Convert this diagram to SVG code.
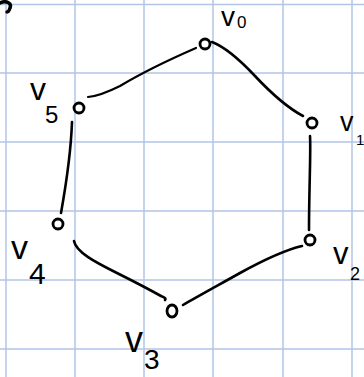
<svg xmlns="http://www.w3.org/2000/svg" width="364" height="377" viewBox="0 0 364 377">
<style>
.grid line{stroke:#b3c5e6;stroke-width:1.5}
.edge{fill:none;stroke:#000;stroke-width:2.6;stroke-linecap:round;stroke-linejoin:round}
.node{fill:none;stroke:#000;stroke-width:2.8}
.lbl{font-family:"Liberation Sans",Arial,sans-serif;fill:#000}
</style>
<rect width="364" height="377" fill="#fff"/>
<g class="grid">
<line x1="6" y1="0" x2="6" y2="377"/>
<line x1="75" y1="0" x2="75" y2="377"/>
<line x1="144" y1="0" x2="144" y2="377"/>
<line x1="213" y1="0" x2="213" y2="377"/>
<line x1="283" y1="0" x2="283" y2="377"/>
<line x1="352" y1="0" x2="352" y2="377"/>
<line x1="0" y1="4.5" x2="364" y2="4.5"/>
<line x1="0" y1="73" x2="364" y2="73"/>
<line x1="0" y1="142" x2="364" y2="142"/>
<line x1="0" y1="211" x2="364" y2="211"/>
<line x1="0" y1="280" x2="364" y2="280"/>
<line x1="0" y1="349" x2="364" y2="349"/>
</g>
<path d="M0,3 C6,0 12,3 10,8 C9,11 8,12 7,12" fill="none" stroke="#000" stroke-width="3.5" stroke-linecap="round"/>
<g id="connectors">
<path class="edge" style="stroke-width:2.2" d="M196,48 Q150,68 120,86 Q100,96 88,97"/>
<path class="edge" d="M212,42 C225,47 240,60 255,76 C270,92 288,108 303,116"/>
<path class="edge" d="M72,122 C71,150 66,185 61,213"/>
<path class="edge" d="M310,136 C311,150 309,190 309,230"/>
<path class="edge" d="M74,241 C76,252 95,262 115,272 C135,282 152,291 161,296 C166,298 166,299 165,300"/>
<path class="edge" d="M302,246 C285,250 260,262 240,273 C215,287 195,298 183,305"/>
</g>
<g id="v0">
<circle class="node" cx="205" cy="44" r="5"/>
<text class="lbl" x="221" y="26" font-size="28">v<tspan x="237" y="28" font-size="17">0</tspan></text>
</g>
<g id="v1">
<circle class="node" cx="312" cy="123" r="5"/>
<text class="lbl" x="340" y="131" font-size="27">v<tspan x="356" y="145" font-size="15">1</tspan></text>
</g>
<g id="v2">
<circle class="node" cx="310" cy="240" r="5"/>
<text class="lbl" x="333" y="264" font-size="31">v<tspan x="350" y="280" font-size="18">2</tspan></text>
</g>
<g id="v3">
<ellipse class="node" cx="172" cy="311" rx="5" ry="6"/>
<text class="lbl" x="125" y="352" font-size="36">v<tspan x="144" y="369" font-size="28">3</tspan></text>
</g>
<g id="v4">
<circle class="node" cx="58" cy="224" r="5"/>
<text class="lbl" x="11" y="259" font-size="34">v<tspan x="29" y="284" font-size="30">4</tspan></text>
</g>
<g id="v5">
<circle class="node" cx="79" cy="108" r="5"/>
<text class="lbl" x="30" y="100" font-size="32">v<tspan x="45" y="123" font-size="24">5</tspan></text>
</g>
</svg>
